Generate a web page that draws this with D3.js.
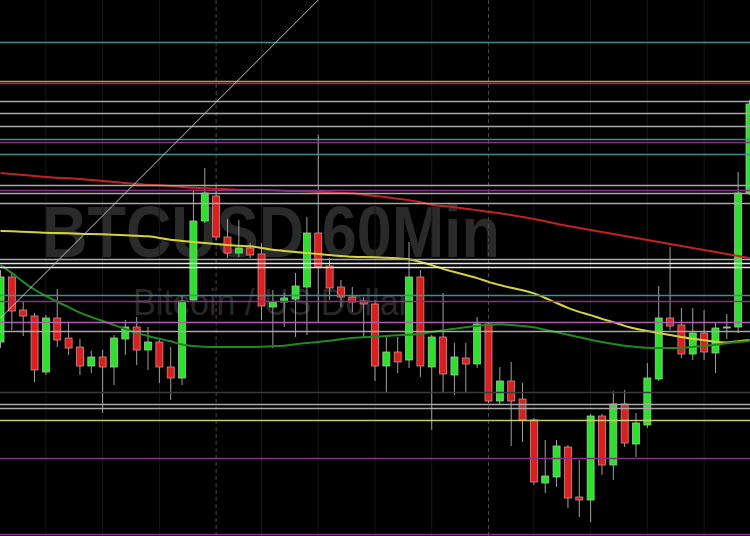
<!DOCTYPE html>
<html>
<head>
<meta charset="utf-8">
<script src="https://cdn.jsdelivr.net/npm/d3@7"></script>
<style>
  html, body { margin: 0; padding: 0; background: #000; overflow: hidden; }
</style>
</head>
<body>
<script>
var w = 750;
var h = 536;

// hourly candles, BTC/USD
var open  = [9658,9723,9690,9684,9628,9682,9662,9653,9634,9643,9633,9661,9673,9650,9658,9633,9622,9700,9779,9804,9763,9747,9752,9746,9693,9698,9701,9713,9767,9734,9713,9703,9699,9696,9634,9648,9640,9723,9633,9663,9625,9642,9636,9676,9599,9619,9601,9580,9517,9523,9553,9503,9500,9584,9535,9596,9556,9575,9621,9682,9675,9646,9667,9647,9673,9673,9807];
var high  = [9730,9728,9699,9687,9685,9711,9678,9661,9649,9650,9665,9680,9683,9673,9660,9653,9705,9810,9832,9815,9781,9780,9757,9757,9710,9707,9727,9783,9865,9742,9720,9713,9703,9700,9665,9663,9758,9730,9665,9707,9657,9657,9683,9678,9633,9638,9617,9582,9560,9560,9555,9540,9586,9586,9609,9610,9587,9637,9714,9753,9692,9692,9690,9678,9686,9828,9900];
var low   = [9652,9670,9664,9618,9625,9653,9645,9625,9627,9587,9615,9645,9635,9630,9617,9600,9615,9698,9777,9760,9742,9743,9742,9680,9652,9673,9663,9665,9677,9700,9693,9688,9663,9619,9607,9627,9632,9623,9570,9608,9605,9607,9632,9597,9595,9554,9558,9515,9507,9513,9492,9483,9478,9525,9520,9553,9543,9572,9619,9670,9642,9640,9640,9627,9661,9667,9805];
var close = [9723,9689,9684,9630,9682,9660,9652,9634,9643,9633,9662,9673,9650,9658,9633,9622,9699,9779,9807,9763,9747,9752,9745,9694,9698,9702,9714,9767,9733,9712,9703,9698,9696,9634,9648,9638,9723,9634,9663,9626,9643,9636,9676,9599,9619,9599,9580,9518,9524,9554,9502,9500,9584,9535,9596,9557,9577,9622,9682,9674,9646,9667,9648,9672,9673,9807,9896];

// moving averages
var ma200 = [9827,9826,9825,9824,9823,9822,9822,9821,9820,9819,9818,9817,9816,9815,9815,9814,9813,9812,9812,9811,9811,9810,9810,9810,9810,9809,9809,9809,9808,9808,9807,9807,9805,9804,9803,9801,9800,9798,9795,9794,9793,9791,9790,9788,9787,9785,9783,9781,9779,9776,9774,9772,9770,9768,9766,9764,9762,9760,9758,9756,9754,9752,9750,9748,9746,9744,9742];
var ma100 = [9769,9769,9768,9768,9767,9767,9767,9766,9766,9766,9765,9765,9764,9764,9762,9760,9759,9758,9757,9756,9755,9754,9754,9752,9750,9749,9748,9747,9746,9745,9744,9743,9743,9743,9742,9742,9741,9738,9735,9731,9728,9725,9722,9718,9715,9712,9710,9707,9702,9697,9692,9688,9685,9681,9678,9674,9671,9669,9667,9665,9663,9661,9660,9658,9657,9659,9660];
var ma50  = [9735,9727,9718,9710,9704,9698,9693,9687,9683,9679,9675,9671,9667,9664,9661,9659,9655,9654,9653,9653,9653,9653,9653,9653,9654,9654,9656,9657,9658,9659,9661,9662,9663,9663,9664,9665,9665,9666,9668,9670,9671,9673,9674,9675,9676,9675,9674,9673,9670,9668,9665,9663,9660,9658,9656,9654,9653,9652,9652,9652,9652,9653,9654,9655,9657,9658,9659];

// support / resistance levels
var levels = [9958,9919,9917,9899,9887,9874,9861,9858,9846,9815,9810,9807,9797,9741,9737,9733,9705,9699,9678,9669,9608,9596,9592,9580,9542,9466];
var levelKind = ["teal","orange","rose","gray","gray","gray","teal","purple","teal","gray","purple","gray","gray","gray","white","white","teal","purple","lilac","gray","dim","gray","gray","yellow","purple","purple"];

// hour gridlines (dashed = new day)
var hourGrid = [4,9,14,19,23,28,33,38,43,47,52,57,62];
var dayGrid = [19,43];

// trend line
var trend = [[0,9682],[28,10000]];

var titleText = "BTCUSD 60Min";
var subText = "Bitcoin / US Dollar";

var colors = {
  teal: "#3f8f8f", orange: "#c8964a", rose: "#b02a5a", gray: "#a8a8a8",
  white: "#e6e6e6", purple: "#8e2f8e", lilac: "#b060b0", dim: "#3a3a3a", yellow: "#c8cc70"
};

var x = d3.scaleLinear().domain([0, 66]).range([0.5, 749.5]);
var y = d3.scaleLinear().domain([9464, 10000]).range([536, 0]);

var svg = d3.select("body")
  .append("svg")
  .attr("width", w)
  .attr("height", h)
  .style("display", "block")
  .style("background", "#000");

// watermark
svg.append("text")
  .attr("x", 42)
  .attr("y", 257)
  .attr("textLength", 458)
  .attr("lengthAdjust", "spacingAndGlyphs")
  .style("font-family", "'Liberation Sans', Arial, sans-serif")
  .style("font-weight", "bold")
  .style("font-size", "72px")
  .attr("fill", "#2a2a2a")
  .text(titleText);

svg.append("text")
  .attr("x", 133)
  .attr("y", 315)
  .attr("textLength", 277)
  .attr("lengthAdjust", "spacingAndGlyphs")
  .style("font-family", "'Liberation Sans', Arial, sans-serif")
  .style("font-size", "36px")
  .attr("fill", "#282828")
  .text(subText);

// vertical grid
svg.selectAll("line.vgrid")
  .data(hourGrid)
  .enter()
  .append("line")
  .attr("class", "vgrid")
  .attr("x1", function(d) { return x(d); })
  .attr("x2", function(d) { return x(d); })
  .attr("y1", 0)
  .attr("y2", h)
  .attr("stroke", function(d) { return dayGrid.indexOf(d) >= 0 ? "#4a4a4a" : "#181818"; })
  .attr("stroke-dasharray", function(d) { return dayGrid.indexOf(d) >= 0 ? "4,3" : null; })
  .attr("stroke-width", 1);

// candles
var candles = d3.range(open.length).map(function(i) {
  return { i: i, o: open[i], h: high[i], l: low[i], c: close[i] };
});

var g = svg.append("g");

g.selectAll("line.wick")
  .data(candles)
  .enter()
  .append("line")
  .attr("class", "wick")
  .attr("x1", function(d) { return x(d.i); })
  .attr("x2", function(d) { return x(d.i); })
  .attr("y1", function(d) { return y(d.h); })
  .attr("y2", function(d) { return y(d.l); })
  .attr("stroke", "#a0a0a0")
  .attr("stroke-width", 1);

g.selectAll("rect.body")
  .data(candles)
  .enter()
  .append("rect")
  .attr("class", "body")
  .attr("x", function(d) { return x(d.i) - 3.5; })
  .attr("width", 7)
  .attr("y", function(d) { return y(Math.max(d.o, d.c)); })
  .attr("height", function(d) { return Math.max(1, Math.abs(y(d.o) - y(d.c))); })
  .attr("fill", function(d) { return d.c >= d.o ? "#2ee02e" : "#d82020"; })
  .attr("stroke", function(d) { return d.c >= d.o ? "#9acc9a" : "#d88a8a"; })
  .attr("stroke-width", 0.8);

// moving averages
var maLine = d3.line()
  .x(function(d, i) { return x(i); })
  .y(function(d) { return y(d); })
  .curve(d3.curveBasis);

[[ma200, "#c42222"], [ma100, "#d6d23c"], [ma50, "#1f8a1f"]].forEach(function(m) {
  svg.append("path")
    .attr("d", maLine(m[0]))
    .attr("fill", "none")
    .attr("stroke", m[1])
    .attr("stroke-width", 2);
});

// horizontal levels
svg.selectAll("line.level")
  .data(levels)
  .enter()
  .append("line")
  .attr("class", "level")
  .attr("x1", 0)
  .attr("x2", w)
  .attr("y1", function(d) { return Math.round(y(d)) + 0.5; })
  .attr("y2", function(d) { return Math.round(y(d)) + 0.5; })
  .attr("stroke", function(d, i) { return colors[levelKind[i]]; })
  .attr("stroke-width", 1.6);

// trend line
svg.append("line")
  .attr("x1", x(trend[0][0]))
  .attr("y1", y(trend[0][1]))
  .attr("x2", x(trend[1][0]))
  .attr("y2", y(trend[1][1]))
  .attr("stroke", "#c8c8c8")
  .attr("stroke-width", 1);
</script>
</body>
</html>
